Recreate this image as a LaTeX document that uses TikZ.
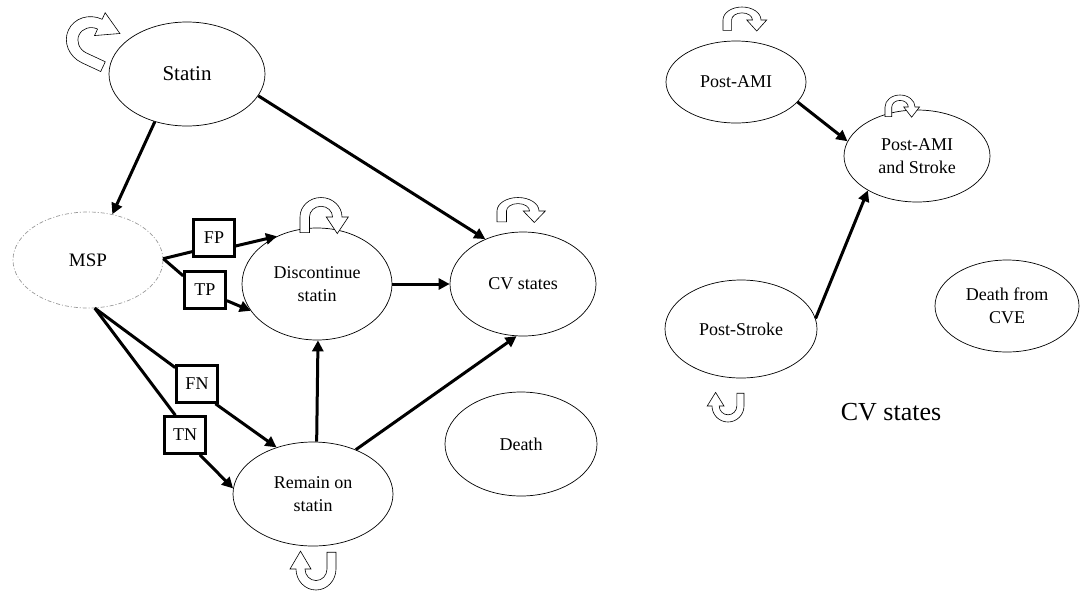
\documentclass[tikz,border=0pt]{standalone}
\usepackage{fontspec}
\setmainfont{Liberation Serif}
\usetikzlibrary{shapes.geometric,arrows.meta}
\tikzset{
  x=1pt,y=1pt,
  state/.style={draw,ellipse,line width=0.7pt,inner sep=0pt,align=center,font=\fontsize{18}{23}\selectfont},
  test/.style={draw,rectangle,line width=2.6pt,minimum width=41pt,minimum height=37pt,inner sep=0pt,font=\fontsize{18}{20}\selectfont},
  arr/.style={line width=3pt,-{Triangle[length=11pt,width=11pt]}},
  seg/.style={line width=3pt},
  looparrow/.style={draw=black,fill=white,line width=0.6pt,line join=miter},
  loopar/.pic={
    \path[looparrow] (-1,-0.8) -- (-1,0) arc[start angle=180,end angle=0,radius=1] -- (1.3,0) -- (0.775,-0.85) -- (0.25,0) -- (0.55,0) arc[start angle=0,end angle=180,radius=0.55] -- (-0.55,-0.8) -- cycle;
  }
}
\begin{document}
\begin{tikzpicture}
\useasboundingbox (0,0) rectangle (1081,-590);
% left part
\node[state,minimum width=156pt,minimum height=104pt,font=\fontsize{21}{24}\selectfont] (statin) at (187,-74) {Statin};
\node[state,draw=gray!80,dash pattern=on 4pt off 2pt on 1pt off 2pt,minimum width=150pt,minimum height=96pt,font=\fontsize{19}{22}\selectfont] (msp) at (88,-260) {MSP};
\node[state,minimum width=150pt,minimum height=112pt] (disc) at (317,-284) {Discontinue\\statin};
\node[state,minimum width=146pt,minimum height=104pt] (cv) at (523,-284) {CV states};
\node[state,minimum width=160pt,minimum height=104pt] (remain) at (313,-494) {Remain on\\statin};
\node[state,minimum width=152pt,minimum height=104pt] (death) at (521,-444) {Death};
\node[test] (fp) at (214,-238) {FP};
\node[test] (tp) at (205,-290) {TP};
\node[test] (fn) at (197,-384) {FN};
\node[test] (tn) at (185,-435) {TN};
% right part
\node[state,minimum width=140pt,minimum height=82pt] (ami) at (736,-82) {Post-AMI};
\node[state,minimum width=146pt,minimum height=92pt] (amis) at (917,-156) {Post-AMI\\and Stroke};
\node[state,minimum width=152pt,minimum height=98pt] (stroke) at (741,-329) {Post-Stroke};
\node[state,minimum width=144pt,minimum height=92pt] (dcve) at (1007,-306) {Death from\\CVE};
\node[font=\fontsize{26}{30}\selectfont] (cvlabel) at (891,-412) {CV states};
% connectors
\draw[arr] (statin.236.5) -- (msp.62.6);
\draw[arr] (statin.343.5) -- (cv.130.5);
\draw[seg] (msp.1.5) -- (fp.212);
\draw[arr] (fp.340) -- (disc.130);
\draw[seg] (msp.1.5) -- (tp.147);
\draw[arr] (tp.334.5) -- (disc.202.8);
\draw[seg] (msp.278) -- (fn.143.6);
\draw[arr] (fn.313) -- (remain.128.5);
\draw[seg] (msp.278) -- (tn.116.6);
\draw[arr] (tn.307) -- (remain.176);
\draw[arr] (disc.0) -- (cv.180);
\draw[arr] (remain.86.7) -- (disc.271);
\draw[arr] (remain.46.3) -- (cv.263.8);
\draw[arr] (ami.342.6) -- (amis.168.7);
\draw[arr] (stroke.8) -- (amis.215);
% self loops
\pic[rotate=65,xscale=24,yscale=26] at (92,-41) {loopar};
\pic[xscale=21,yscale=19.5] at (321,-217) {loopar};
\pic[xscale=21,yscale=13.5] at (518,-211) {loopar};
\pic[rotate=180,xscale=20,yscale=21] at (316,-569) {loopar};
\pic[xscale=19,yscale=13] at (742,-20) {loopar};
\pic[xscale=15,yscale=12] at (900,-107) {loopar};
\pic[rotate=180,xscale=16,yscale=16] at (728,-406) {loopar};
\end{tikzpicture}
\end{document}
